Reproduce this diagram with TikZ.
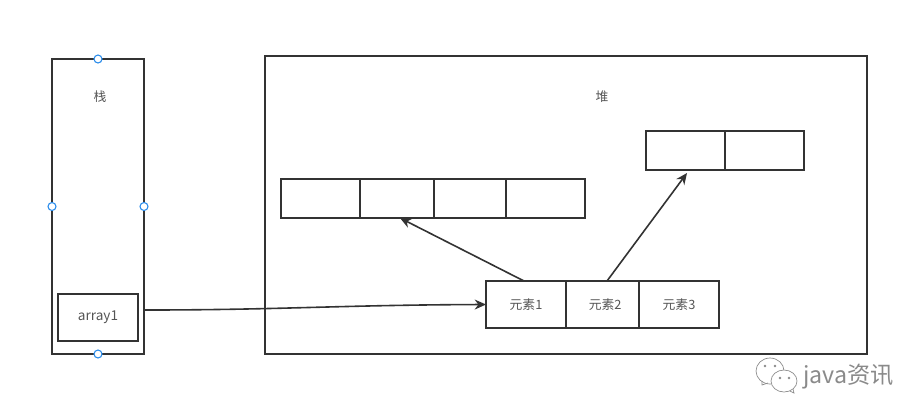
\documentclass[tikz,border=0pt]{standalone}
\usepackage{fontspec}
\setmainfont{Liberation Sans}
\newfontfamily\cjk{Noto Sans CJK SC}
\usepackage{xcolor}
\usepackage{tikz}
\usetikzlibrary{arrows.meta,positioning,calc}
\definecolor{fink}{HTML}{333333}
\definecolor{ftext}{HTML}{555555}
\definecolor{fhandle}{HTML}{2A8CEB}
\definecolor{fmark}{HTML}{8A8A8A}

\begin{document}
\begin{tikzpicture}[font=\fontsize{9.6}{11}\selectfont\cjk,x=0.75pt,y=-0.75pt,
  >={Stealth[length=8.5pt,width=7.5pt]},
  box/.style={draw=fink,line width=1.2pt,inner sep=0pt,outer sep=0pt,anchor=north west,text=ftext},
  cell/.style={box,minimum height=29.25pt},
  cellb/.style={box,minimum height=35.25pt},
  label/.style={text=ftext,inner sep=0pt},
  handle/.style={circle,draw=fhandle,fill=white,line width=0.8pt,minimum size=6pt,inner sep=0pt},
  link/.style={draw=fink,line width=1.2pt,->}]

\useasboundingbox (0,0) rectangle (923,419);

% ================= stack =================
\node[box,minimum width=69pt,minimum height=221.25pt] (stack) at (52,59) {};
\node[label] (stacklabel) at (100,97) {栈};
\node[box,minimum width=60pt,minimum height=35.25pt,font=\fontsize{10.2}{12}\selectfont\cjk] (array1) at (58,294) {array1};
\node[handle] (htop) at (stack.north) {};
\node[handle] (hbottom) at (stack.south) {};
\node[handle] (hleft) at (stack.west) {};
\node[handle] (hright) at (stack.east) {};

% ================= heap =================
\node[box,minimum width=451.5pt,minimum height=223.5pt] (heap) at (265,56) {};
\node[label] (heaplabel) at (602,97) {堆};

% long row
\node[cell,minimum width=59.25pt] (rowa) at (281,179) {};
\node[cell,minimum width=55.5pt] (rowb) at (360,179) {};
\node[cell,minimum width=54pt] (rowc) at (434,179) {};
\node[cell,minimum width=59.25pt] (rowd) at (506,179) {};

% short row
\node[cell,minimum width=59.25pt] (upa) at (646,131) {};
\node[cell,minimum width=59.25pt] (upb) at (725,131) {};

% elements
\node[cellb,minimum width=60pt] (elema) at (486,281) {元素1};
\node[cellb,minimum width=54.75pt] (elemb) at (566,281) {\hspace{4pt}元素2};
\node[cellb,minimum width=60pt] (elemc) at (639,281) {元素3};

% ================= connectors =================
\coordinate (start) at (144.5,310);
\coordinate (ela) at (524,281);
\coordinate (rowtip) at (400,218);
\coordinate (elb) at (607,281);
\coordinate (uptip) at (687,173);
\draw[link] (start) .. controls (280,310) and (340,305) .. (elema.west);
\draw[link] (ela) -- (rowtip);
\draw[link] (elb) -- (uptip);

% ================= watermark =================
\begin{scope}[draw=fmark,line width=0.5pt]
  \draw[fill=white] (770,371) ellipse (14 and 13);
  \draw (762,381) -- (762,385) -- (768,383);
  \fill[fmark] (765,366) circle (1pt) (775,366) circle (1pt);
  \draw[fill=white] (784,381) ellipse (13 and 11);
  \draw (790,391) -- (794,393) -- (793,389);
  \fill[fmark] (780,378) circle (1pt) (789,378) circle (1pt);
\end{scope}
\node[text=fmark,anchor=west,inner sep=0pt,font=\fontsize{17.4}{19}\selectfont\cjk] (mark) at (803,377) {java资讯};
\end{tikzpicture}
\end{document}
